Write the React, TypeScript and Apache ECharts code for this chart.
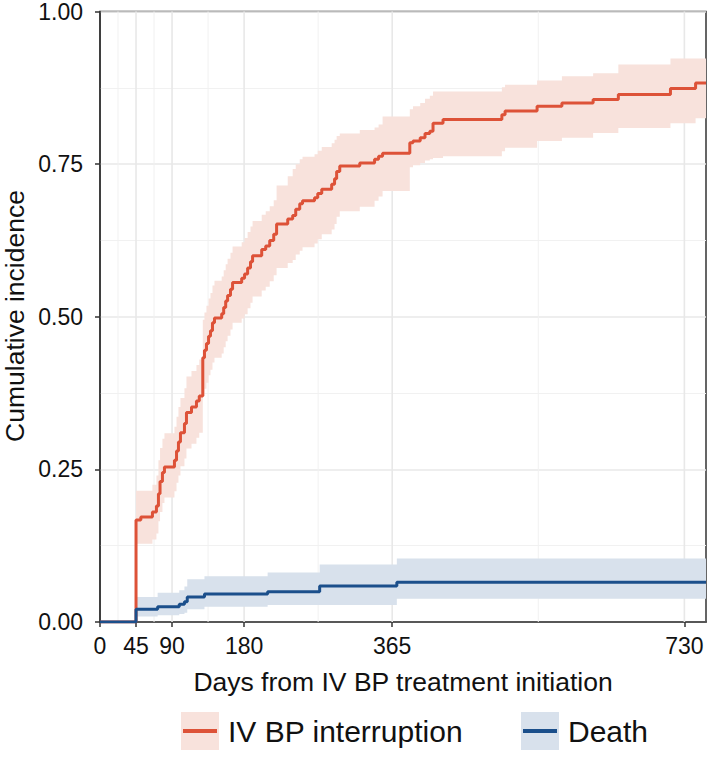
import React, { useEffect, useRef } from 'react';
import * as echarts from 'echarts';

const FONT = '"Liberation Sans", Arial, Helvetica, sans-serif';

// Axis breaks
const xTicks = [0, 45, 90, 180, 365, 730];
const xMajorGrid = [45, 90, 180, 365, 730];
const xMinorGrid = [22.5, 67.5, 135, 272.5, 547.5];
const xMax = 757;

// IV BP interruption (cumulative incidence, step function) with 95% band
const redDays = [0, 45, 51, 65.5, 70.5, 73, 75, 78, 80.5, 93, 95.6, 98, 100.5, 105.5, 108, 114.3, 120.5, 124, 128.4, 130.5, 133, 135.6, 138, 140.5, 143, 152, 154.5, 157, 159.4, 163, 165.6, 177, 180.6, 184.4, 188, 190.6, 202, 207, 212, 217, 220.6, 234.5, 240.7, 244.5, 249.5, 253, 268, 272, 277, 289.4, 293, 295.6, 299.5, 324.5, 343, 348, 353, 387, 391, 400, 406, 412, 416, 428.5, 502, 506, 546, 577, 616, 647.5, 712.6, 744, 757];
const redValues = [0, 0.167, 0.172, 0.18, 0.19, 0.21, 0.23, 0.245, 0.254, 0.265, 0.28, 0.295, 0.31, 0.325, 0.343, 0.352, 0.362, 0.37, 0.433, 0.445, 0.456, 0.468, 0.477, 0.49, 0.498, 0.505, 0.515, 0.526, 0.535, 0.545, 0.556, 0.563, 0.57, 0.58, 0.59, 0.6, 0.61, 0.616, 0.625, 0.635, 0.652, 0.66, 0.666, 0.676, 0.685, 0.69, 0.695, 0.702, 0.709, 0.717, 0.726, 0.738, 0.747, 0.752, 0.758, 0.763, 0.768, 0.785, 0.788, 0.793, 0.8, 0.804, 0.817, 0.823, 0.831, 0.837, 0.845, 0.85, 0.856, 0.864, 0.874, 0.883, 0.883];
const redLower = [0, 0.128, 0.128, 0.135, 0.145, 0.165, 0.18, 0.195, 0.204, 0.214, 0.228, 0.24, 0.255, 0.268, 0.284, 0.292, 0.302, 0.31, 0.37, 0.382, 0.392, 0.404, 0.413, 0.425, 0.433, 0.44, 0.45, 0.46, 0.469, 0.479, 0.49, 0.497, 0.504, 0.514, 0.523, 0.533, 0.543, 0.549, 0.558, 0.568, 0.58, 0.588, 0.593, 0.602, 0.608, 0.614, 0.62, 0.627, 0.635, 0.643, 0.652, 0.664, 0.673, 0.68, 0.69, 0.697, 0.706, 0.745, 0.748, 0.752, 0.756, 0.758, 0.76, 0.763, 0.771, 0.777, 0.788, 0.793, 0.801, 0.809, 0.817, 0.825, 0.825];
const redUpper = [0, 0.215, 0.215, 0.225, 0.24, 0.265, 0.285, 0.3, 0.309, 0.32, 0.336, 0.352, 0.367, 0.383, 0.402, 0.411, 0.421, 0.43, 0.495, 0.507, 0.518, 0.53, 0.539, 0.551, 0.559, 0.566, 0.576, 0.586, 0.595, 0.605, 0.615, 0.622, 0.629, 0.639, 0.648, 0.657, 0.667, 0.673, 0.681, 0.691, 0.715, 0.73, 0.742, 0.75, 0.758, 0.762, 0.766, 0.772, 0.778, 0.784, 0.79, 0.796, 0.8, 0.806, 0.81, 0.815, 0.828, 0.84, 0.845, 0.85, 0.857, 0.862, 0.869, 0.869, 0.876, 0.88, 0.887, 0.894, 0.899, 0.913, 0.923, 0.923, 0.923];

// Death
const blueDays = [0, 45, 72, 99, 105.5, 109, 130.5, 209.4, 274.4, 370.8, 757];
const blueValues = [0, 0.021, 0.025, 0.029, 0.033, 0.041, 0.046, 0.0496, 0.059, 0.065, 0.065];
const blueLower = [0, 0.009, 0.011, 0.013, 0.015, 0.021, 0.025, 0.028, 0.028, 0.038, 0.038];
const blueUpper = [0, 0.041, 0.048, 0.052, 0.058, 0.07, 0.075, 0.081, 0.094, 0.104, 0.104];

const legendLabels = ['IV BP interruption', 'Death'];

const RED = '#DD5238';
const RED_BAND = '#F8E2DC';
const BLUE = '#1B4F8B';
const BLUE_BAND = '#D8E1EC';

function bandSeries(days: number[], lo: number[], hi: number[], color: string) {
  return {
    type: 'custom',
    z: 2,
    silent: true,
    clip: true,
    data: [[0, 0]],
    renderItem: (_p: any, api: any) => {
      const top: number[][] = [];
      const bottom: number[][] = [];
      for (let i = 1; i < days.length - 1; i++) {
        top.push(api.coord([days[i], hi[i]]), api.coord([days[i + 1], hi[i]]));
        bottom.push(api.coord([days[i], lo[i]]), api.coord([days[i + 1], lo[i]]));
      }
      return {
        type: 'polygon',
        shape: { points: top.concat(bottom.reverse()) },
        style: { fill: color },
      };
    },
  };
}

export default function App() {
  const ref = useRef<HTMLDivElement>(null);
  useEffect(() => {
    const chart = echarts.init(ref.current!, null, { renderer: 'svg' });
    const gridSeries = {
      type: 'custom',
      z: 1,
      silent: true,
      data: [[0, 0]],
      renderItem: (_p: any, api: any) => {
        const children: any[] = [];
        xMinorGrid.forEach((d) => {
          const a = api.coord([d, 0]);
          const b = api.coord([d, 1]);
          children.push({ type: 'line', shape: { x1: a[0], y1: a[1], x2: b[0], y2: b[1] }, style: { stroke: '#F1F1F1', lineWidth: 1 } });
        });
        xMajorGrid.forEach((d) => {
          const a = api.coord([d, 0]);
          const b = api.coord([d, 1]);
          children.push({ type: 'line', shape: { x1: a[0], y1: a[1], x2: b[0], y2: b[1] }, style: { stroke: '#E8E8E8', lineWidth: 1.6 } });
        });
        return { type: 'group', children };
      },
    };
    chart.setOption({
      animation: false,
      backgroundColor: '#ffffff',
      textStyle: { fontFamily: FONT },
      grid: { left: 100, right: 3, top: 10, bottom: 153, show: true, borderColor: '#333333', borderWidth: 1.5, backgroundColor: 'transparent' },
      xAxis: {
        type: 'value',
        min: 0,
        max: xMax,
        name: 'Days from IV BP treatment initiation',
        nameLocation: 'middle',
        nameGap: 46,
        nameTextStyle: { fontSize: 26.5, color: '#111', fontFamily: FONT },
        axisLine: { show: true, lineStyle: { color: '#333333', width: 1.5 } },
        axisTick: { show: true, length: 5, customValues: xTicks, lineStyle: { color: '#333333', width: 1.5 } },
        axisLabel: { customValues: xTicks, fontSize: 23, color: '#111', margin: 12, fontFamily: FONT },
        splitLine: { show: false },
      },
      yAxis: {
        type: 'value',
        min: 0,
        max: 1,
        interval: 0.25,
        axisLine: { show: true, lineStyle: { color: '#333333', width: 1.5 } },
        axisTick: { show: true, length: 5, lineStyle: { color: '#333333', width: 1.5 } },
        axisLabel: { fontSize: 23, color: '#111', margin: 17, fontFamily: FONT, formatter: (v: number) => v.toFixed(2) },
        splitLine: { show: true, lineStyle: { color: '#E8E8E8', width: 1.6 } },
        minorTick: { show: false, splitNumber: 2 },
        minorSplitLine: { show: true, lineStyle: { color: '#F1F1F1', width: 1 } },
      },
      graphic: [
        {
          type: 'text',
          x: 15,
          y: 316,
          rotation: Math.PI / 2,
          style: { text: 'Cumulative incidence', fontSize: 26.5, fill: '#111', fontFamily: FONT, align: 'center', verticalAlign: 'middle' },
        },
        { type: 'rect', shape: { x: 181, y: 712, width: 38, height: 38 }, style: { fill: RED_BAND } },
        { type: 'line', shape: { x1: 183, y1: 731, x2: 217, y2: 731 }, style: { stroke: RED, lineWidth: 4 } },
        { type: 'text', x: 228, y: 731, style: { text: legendLabels[0], fontSize: 30, fill: '#111', fontFamily: FONT, verticalAlign: 'middle' } },
        { type: 'rect', shape: { x: 521, y: 712, width: 38, height: 38 }, style: { fill: BLUE_BAND } },
        { type: 'line', shape: { x1: 523, y1: 731, x2: 557, y2: 731 }, style: { stroke: BLUE, lineWidth: 4 } },
        { type: 'text', x: 568, y: 731, style: { text: legendLabels[1], fontSize: 30, fill: '#111', fontFamily: FONT, verticalAlign: 'middle' } },
      ],
      series: [
        gridSeries,
        bandSeries(redDays, redLower, redUpper, RED_BAND),
        bandSeries(blueDays, blueLower, blueUpper, BLUE_BAND),
        {
          name: legendLabels[0],
          type: 'line',
          step: 'end',
          z: 3,
          symbol: 'none',
          showSymbol: false,
          silent: true,
          lineStyle: { color: RED, width: 3 },
          data: redDays.map((d, i) => [d, redValues[i]]),
        },
        {
          name: legendLabels[1],
          type: 'line',
          step: 'end',
          z: 3,
          symbol: 'none',
          showSymbol: false,
          silent: true,
          lineStyle: { color: BLUE, width: 3 },
          data: blueDays.map((d, i) => [d, blueValues[i]]),
        },
      ],
    });
    return () => chart.dispose();
  }, []);
  return <div ref={ref} style={{ position: 'fixed', left: 0, top: 0, width: 709, height: 775 }} />;
}
